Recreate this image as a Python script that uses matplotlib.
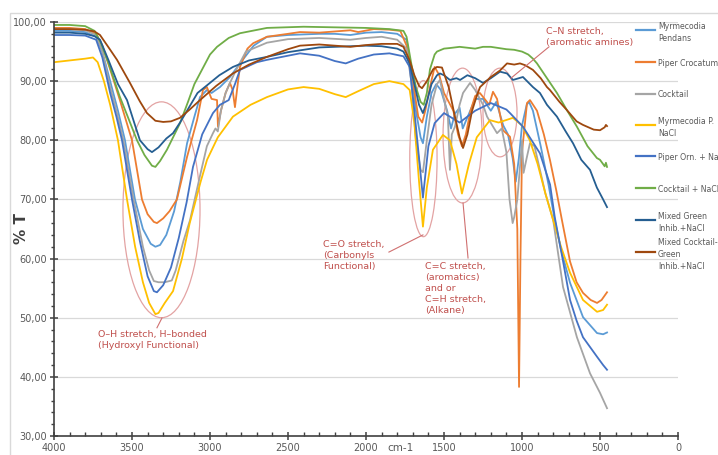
import numpy as np
import matplotlib.pyplot as plt
from matplotlib.patches import Ellipse, Rectangle
from matplotlib.lines import Line2D
from matplotlib.ticker import MultipleLocator, FuncFormatter

# ---------------------------------------------------------------------------
# FTIR spectra (%T vs wavenumber, cm-1)

wn_myrm = [4000, 3900, 3800, 3730, 3690, 3640, 3590, 3545, 3481, 3430, 3380, 3350, 3320, 3280,
           3230, 3190, 3147, 3100, 3064, 3020, 2990, 2936, 2872, 2808, 2720, 2635, 2500, 2300,
           2200, 2100, 2000, 1900, 1800, 1740, 1710, 1680, 1650, 1635, 1610, 1580, 1550, 1520,
           1480, 1455, 1430, 1400, 1380, 1340, 1300, 1250, 1200, 1165, 1120, 1090, 1060, 1040,
           1020, 1000, 970, 955, 930, 880, 830, 790, 750, 692, 609, 519, 480, 455]
t_myrm = [98.5, 98.5, 98.3, 97.5, 95.0, 90.0, 85.0, 80.0, 70.0, 65.0, 62.5, 62.0, 62.3, 64.0,
          68.0, 73.0, 79.5, 84.0, 87.3, 88.5, 88.0, 89.0, 90.7, 93.0, 96.0, 97.5, 97.8, 98.0,
          98.0, 97.8, 98.2, 98.3, 98.0, 97.0, 92.0, 85.0, 80.5, 79.5, 84.0, 88.0, 89.5, 88.5,
          85.0, 82.0, 84.5, 85.5, 82.0, 84.5, 87.0, 87.0, 85.0, 86.5, 82.5, 81.0, 77.0, 73.0,
          77.0, 82.5, 86.0, 86.5, 85.0, 79.0, 72.5, 66.5, 61.5, 55.9, 50.1, 47.4, 47.2, 47.5]

wn_piper = [4000, 3900, 3800, 3730, 3690, 3640, 3580, 3500, 3436, 3400, 3360, 3340, 3300, 3260,
            3212, 3147, 3083, 3045, 3020, 2990, 2955, 2949, 2930, 2900, 2872, 2855, 2840, 2820,
            2808, 2760, 2724, 2635, 2500, 2423, 2300, 2200, 2100, 2050, 1950, 1850, 1780, 1740,
            1700, 1665, 1640, 1620, 1590, 1560, 1530, 1500, 1470, 1440, 1410, 1385, 1360, 1330,
            1300, 1270, 1240, 1210, 1186, 1160, 1122, 1077, 1050, 1030, 1019, 1010, 1000, 968,
            949, 904, 860, 821, 780, 744, 692, 650, 609, 560, 519, 490, 455]
t_piper = [99.0, 99.0, 98.8, 98.0, 96.0, 92.0, 87.0, 80.0, 70.0, 67.5, 66.2, 66.0, 66.8, 68.0,
           70.0, 77.2, 83.4, 88.5, 89.0, 87.0, 86.8, 82.3, 85.0, 88.0, 89.7, 88.5, 85.6, 90.0,
           92.4, 95.5, 96.4, 97.5, 98.0, 98.3, 98.2, 98.4, 98.6, 98.3, 98.8, 98.7, 98.5, 96.0,
           90.0, 84.0, 83.0, 85.0, 89.0, 92.4, 91.0, 88.0, 86.5, 85.0, 81.0, 79.0, 81.0, 85.0,
           87.5, 88.0, 87.0, 86.0, 88.2, 87.0, 81.7, 80.6, 76.0, 65.0, 38.3, 60.0, 78.0, 86.3,
           86.8, 85.0, 81.0, 76.7, 71.5, 66.5, 59.5, 56.0, 54.2, 53.0, 52.5, 53.0, 54.3]

wn_cocktail = [4000, 3900, 3800, 3730, 3690, 3640, 3600, 3555, 3490, 3430, 3390, 3360, 3330, 3290,
               3245, 3220, 3170, 3128, 3064, 3020, 2981, 2965, 2950, 2930, 2900, 2872, 2840, 2770,
               2635, 2500, 2300, 2100, 2000, 1900, 1800, 1740, 1710, 1680, 1650, 1635, 1610, 1580,
               1545, 1526, 1500, 1475, 1462, 1450, 1430, 1400, 1378, 1333, 1300, 1250, 1224, 1190,
               1160, 1130, 1100, 1080, 1060, 1050, 1030, 1013, 1000, 990, 970, 949, 920, 885,
               850, 800, 737, 648, 564, 500, 455]
t_cocktail = [98.8, 98.8, 98.6, 97.8, 95.0, 89.0, 85.0, 80.0, 70.0, 62.0, 58.0, 56.2, 56.0, 56.0,
              56.3, 58.0, 63.0, 66.5, 74.0, 79.0, 81.2, 82.0, 81.5, 85.0, 88.0, 89.7, 91.5, 95.0,
              96.5, 97.1, 97.3, 97.0, 97.3, 97.5, 97.0, 95.5, 90.0, 80.0, 75.0, 74.6, 80.0, 86.0,
              89.5, 90.2, 87.0, 84.0, 75.0, 81.0, 82.3, 86.0, 88.0, 89.7, 88.5, 86.0, 84.0, 82.5,
              81.2, 82.0, 78.0, 70.0, 66.0, 67.0, 70.0, 75.5, 80.0, 74.5, 77.0, 79.5, 79.0, 75.0,
              71.0, 66.5, 55.2, 46.7, 40.6, 37.3, 34.7]

wn_myrm_nacl = [4000, 3900, 3800, 3750, 3720, 3680, 3640, 3590, 3532, 3480, 3430, 3390, 3350, 3330,
                3290, 3237, 3180, 3130, 3060, 3019, 2950, 2853, 2740, 2635, 2500, 2400, 2300, 2200,
                2130, 2050, 1950, 1850, 1760, 1720, 1690, 1660, 1635, 1610, 1571, 1507, 1462, 1420,
                1385, 1340, 1290, 1205, 1150, 1058, 1000, 950, 900, 850, 800, 750, 692, 609,
                519, 480, 455]
t_myrm_nacl = [93.2, 93.5, 93.8, 94.0, 93.2, 90.0, 86.0, 80.0, 70.0, 62.0, 56.0, 52.5, 50.6, 50.8,
               52.5, 54.5, 60.0, 66.0, 73.0, 76.7, 80.5, 84.0, 86.0, 87.3, 88.6, 89.0, 88.7, 87.8,
               87.3, 88.3, 89.5, 90.0, 89.5, 88.5, 83.0, 73.0, 65.4, 72.0, 78.4, 80.9, 80.0, 76.0,
               71.0, 76.0, 80.5, 83.4, 83.0, 83.8, 82.5, 80.0, 76.0, 71.0, 66.5, 62.0, 57.6, 53.0,
               51.0, 51.3, 52.2]

wn_piper_nacl = [4000, 3900, 3800, 3730, 3690, 3640, 3600, 3564, 3500, 3450, 3400, 3360, 3340, 3300,
                 3250, 3200, 3150, 3109, 3050, 2981, 2936, 2880, 2840, 2808, 2700, 2635, 2423, 2300,
                 2200, 2130, 2050, 1950, 1850, 1760, 1720, 1690, 1660, 1635, 1600, 1560, 1500, 1450,
                 1400, 1300, 1200, 1100, 1077, 994, 885, 820, 790, 740, 692, 650, 609, 519,
                 480, 455]
t_piper_nacl = [97.8, 97.8, 97.7, 97.0, 94.0, 88.0, 84.0, 80.0, 70.0, 63.0, 57.0, 54.5, 54.3, 55.5,
                58.5, 63.5, 69.5, 75.5, 81.0, 84.6, 86.0, 86.8, 89.5, 91.9, 93.2, 93.6, 94.7, 94.3,
                93.4, 93.0, 93.8, 94.5, 94.7, 94.2, 92.4, 85.0, 77.0, 70.3, 79.0, 82.9, 84.6, 83.8,
                83.0, 85.0, 86.3, 85.2, 84.6, 82.3, 77.8, 72.5, 67.0, 60.0, 53.0, 49.5, 46.7, 43.4,
                42.0, 41.2]

wn_cocktail_nacl = [4000, 3900, 3800, 3740, 3700, 3650, 3580, 3520, 3468, 3420, 3372, 3350, 3320, 3276,
                    3192, 3141, 3100, 3064, 3000, 2955, 2880, 2808, 2635, 2400, 2200, 2000, 1850, 1760,
                    1740, 1710, 1680, 1650, 1630, 1610, 1590, 1560, 1545, 1500, 1462, 1400, 1300, 1250,
                    1200, 1150, 1100, 1050, 1000, 960, 930, 904, 840, 776, 710, 648, 580, 520,
                    500, 470, 462, 455]
t_cocktail_nacl = [99.5, 99.5, 99.3, 98.5, 96.5, 93.0, 87.5, 83.5, 80.0, 77.5, 75.7, 75.5, 76.5, 78.4,
                   82.9, 86.5, 89.5, 91.3, 94.5, 95.8, 97.3, 98.1, 99.0, 99.2, 99.1, 99.0, 98.8, 98.5,
                   97.5, 93.0, 89.0, 86.5, 86.0, 88.0, 92.0, 94.5, 95.0, 95.5, 95.6, 95.8, 95.5, 95.8,
                   95.8, 95.6, 95.4, 95.3, 95.0, 94.5, 93.8, 93.0, 90.5, 88.0, 85.0, 82.3, 79.0, 77.0,
                   76.7, 75.6, 76.2, 75.5]

wn_mixed_green = [4000, 3900, 3800, 3740, 3705, 3650, 3590, 3532, 3480, 3449, 3400, 3372, 3330, 3280,
                  3237, 3192, 3147, 3080, 3019, 2940, 2853, 2750, 2635, 2500, 2400, 2300, 2200, 2100,
                  2000, 1900, 1800, 1760, 1720, 1690, 1660, 1635, 1610, 1580, 1545, 1526, 1500, 1462,
                  1420, 1397, 1350, 1300, 1250, 1200, 1141, 1096, 1058, 994, 930, 885, 840, 776,
                  720, 673, 620, 564, 520, 480, 455]
t_mixed_green = [98.2, 98.2, 98.0, 97.6, 97.0, 93.5, 89.5, 86.8, 82.5, 80.0, 78.5, 78.0, 78.8, 80.3,
                 81.2, 83.0, 85.0, 88.0, 89.3, 91.0, 92.4, 93.5, 94.1, 94.9, 95.3, 95.7, 95.8, 95.9,
                 96.0, 95.9, 95.5, 95.0, 93.0, 89.5, 86.0, 84.6, 86.5, 89.5, 91.0, 91.3, 91.0, 90.2,
                 90.5, 90.2, 91.0, 90.5, 89.7, 90.5, 91.6, 91.3, 90.2, 90.7, 89.0, 88.0, 86.0, 84.0,
                 81.5, 79.5, 76.7, 75.0, 72.0, 70.0, 68.7]

wn_mixed_cocktail = [4000, 3900, 3800, 3740, 3705, 3650, 3596, 3513, 3450, 3404, 3350, 3300, 3250, 3192,
                     3130, 3064, 2960, 2853, 2750, 2635, 2500, 2423, 2300, 2200, 2100, 2000, 1900, 1800,
                     1760, 1720, 1690, 1660, 1641, 1610, 1570, 1545, 1513, 1470, 1430, 1400, 1378, 1350,
                     1320, 1290, 1269, 1200, 1141, 1096, 1050, 1013, 980, 930, 880, 840, 821, 760,
                     712, 650, 609, 540, 500, 470, 462, 455]
t_mixed_cocktail = [98.8, 98.8, 98.7, 98.4, 97.8, 95.7, 93.6, 89.7, 86.6, 84.6, 83.3, 83.1, 83.2, 83.8,
                    85.2, 86.8, 89.2, 91.3, 92.8, 94.1, 95.4, 96.0, 96.2, 96.0, 95.8, 96.1, 96.3, 96.3,
                    95.8, 93.5, 91.0, 89.2, 88.8, 90.0, 92.0, 92.4, 92.3, 89.0, 84.0, 80.5, 78.7, 81.0,
                    85.0, 87.5, 89.0, 90.7, 91.8, 93.0, 92.8, 93.0, 92.7, 91.9, 90.5, 89.0, 88.5, 86.5,
                    85.1, 83.2, 82.6, 81.8, 81.7, 82.2, 82.6, 82.4]

labels = ["Myrmecodia\nPendans", "Piper Crocatum", "Cocktail", "Myrmecodia P.\nNaCl",
          "Piper Orn. + NaCl", "Cocktail + NaCl", "Mixed Green\nInhib.+NaCl",
          "Mixed Cocktail-\nGreen\nInhib.+NaCl"]
colors = ["#5B9BD5", "#ED7D31", "#A5A5A5", "#FFC000", "#4472C4", "#70AD47", "#255E91", "#9E480E"]

series = [(wn_myrm, t_myrm), (wn_piper, t_piper), (wn_cocktail, t_cocktail),
          (wn_myrm_nacl, t_myrm_nacl), (wn_piper_nacl, t_piper_nacl),
          (wn_cocktail_nacl, t_cocktail_nacl), (wn_mixed_green, t_mixed_green),
          (wn_mixed_cocktail, t_mixed_cocktail)]

# ---------------------------------------------------------------------------
W, H = 718, 455
fig = plt.figure(figsize=(W / 100, H / 100), dpi=100)
ax = fig.add_axes([54 / W, 1 - 436 / H, (678 - 54) / W, (436 - 22) / H])

# chart border
fig.add_artist(Rectangle((10 / W, -0.1), 1.2, 1 - 13 / H + 0.1, transform=fig.transFigure,
                         fill=False, edgecolor="#D9D9D9", lw=1.0))

for (x, y), c in zip(series, colors):
    ax.plot(x, y, color=c, lw=1.3, solid_joinstyle="round")

ax.set_xlim(4000, 0)
ax.set_ylim(30, 100)

comma = FuncFormatter(lambda v, pos: f"{v:.2f}".replace(".", ","))
ax.yaxis.set_major_locator(MultipleLocator(10))
ax.yaxis.set_minor_locator(MultipleLocator(2))
ax.yaxis.set_major_formatter(comma)
ax.xaxis.set_major_locator(MultipleLocator(500))
ax.xaxis.set_minor_locator(MultipleLocator(100))

ax.grid(axis="y", which="major", color="#D9D9D9", lw=0.9)
ax.set_axisbelow(True)
for s in ["top", "right"]:
    ax.spines[s].set_visible(False)
for s in ["left", "bottom"]:
    ax.spines[s].set_color("#404040")
    ax.spines[s].set_linewidth(1.2)

ax.tick_params(axis="both", which="major", direction="inout", length=6, width=1.1,
               colors="#404040", labelsize=7, labelcolor="#595959", pad=2)
ax.tick_params(axis="x", which="minor", direction="in", length=3, width=1.0, colors="#404040")
ax.tick_params(axis="y", which="minor", direction="out", length=2.5, width=1.0, colors="#404040")

fig.text(22 / W, 1 - 228 / H, "% T", rotation=90, ha="center", va="center",
         fontsize=11, fontweight="bold", color="#404040")
ax.text(1782, -0.029, "cm-1", transform=ax.get_xaxis_transform(), ha="center", va="center",
        fontsize=7.5, color="#595959")

# band annotations
red = "#C0504D"
ring = "#E3A3A3"
ax.add_patch(Ellipse((3311, 68.25), 494, 36.5, fill=False, edgecolor=ring, lw=0.9))
ax.add_patch(Ellipse((1632, 76.9), 175, 26.4, fill=False, edgecolor=ring, lw=0.9))
ax.add_patch(Ellipse((1381, 80.8), 250, 22.8, fill=False, edgecolor=ring, lw=0.9))
ax.add_patch(Ellipse((1141, 84.7), 218, 15.0, fill=False, edgecolor=ring, lw=0.9))

ax.plot([3308, 3340], [49.95, 48.3], color="#D07070", lw=0.8)
ax.plot([1635, 1853], [64.0, 61.1], color="#D07070", lw=0.8)
ax.plot([1378, 1346], [69.4, 60.1], color="#D07070", lw=0.8)
ax.plot([1071, 827], [90.5, 95.8], color="#D07070", lw=0.8)

note = dict(color=red, fontsize=6.8, ha="left", va="top", linespacing=1.3)
ax.text(3718, 47.9, "O–H stretch, H–bonded\n(Hydroxyl Functional)", **note)
ax.text(2276, 63.2, "C=O stretch,\n(Carbonyls\nFunctional)", **note)
ax.text(1622, 59.5, "C=C stretch,\n(aromatics)\nand or\nC=H stretch,\n(Alkane)", **note)
ax.text(846, 99.1, "C–N stretch,\n(aromatic amines)", **note)

# legend on the right
leg_y = [30, 62, 94, 125, 156, 188, 220, 252]
for lab, c, py in zip(labels, colors, leg_y):
    yf = 1 - py / H
    fig.add_artist(Line2D([636 / W, 655 / W], [yf, yf], transform=fig.transFigure,
                          color=c, lw=1.6))
    fig.text(658 / W, yf, lab, fontsize=5.6, color="#595959", ha="left",
             va="center_baseline", linespacing=1.45)

fig.savefig("out.png", dpi=100)
